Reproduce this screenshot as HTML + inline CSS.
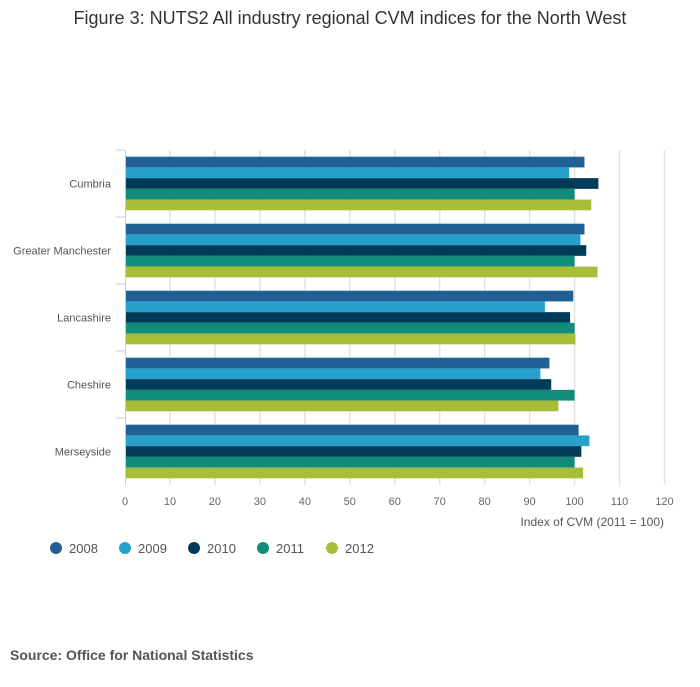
<!DOCTYPE html>
<html><head><meta charset="utf-8"><style>
body{margin:0;background:#fff;font-family:"Liberation Sans",sans-serif;}
</style></head><body>
<svg id="c" width="700" height="682" xmlns="http://www.w3.org/2000/svg">
<text x="350" y="24" text-anchor="middle" font-size="18" fill="#333">Figure 3: NUTS2 All industry regional CVM indices for the North West</text>
<g id="grid"></g><g id="bars"></g><g id="axes"></g><g id="legend"></g>
<text x="10" y="660" font-size="14" font-weight="bold" fill="#555">Source: Office for National Statistics</text>
</svg>
<script>
const categories=["Cumbria","Greater Manchester","Lancashire","Cheshire","Merseyside"];
const years=["2008","2009","2010","2011","2012"];
const colors=["#206095","#27a0cc","#003c57","#118c7b","#a8bd3a"];
const v2008=[102.2,102.2,99.7,94.4,100.9];
const v2009=[98.8,101.3,93.4,92.4,103.3];
const v2010=[105.3,102.6,99.0,94.8,101.5];
const v2011=[100,100,100,100,100];
const v2012=[103.7,105.1,100.2,96.4,101.9];
const ticks=[0,10,20,30,40,50,60,70,80,90,100,110,120];
const series=[v2008,v2009,v2010,v2011,v2012];
const NS="http://www.w3.org/2000/svg";
const x0=125,x1=664.5,yTop=150,yBot=485;
const X=v=>x0+(v/120)*(x1-x0);
const band=(yBot-yTop)/categories.length,pad=6.7,bh=(band-2*pad)/5;
function mk(t,a,p){const e=document.createElementNS(NS,t);for(const k in a)e.setAttribute(k,a[k]);document.getElementById(p).appendChild(e);return e;}
ticks.forEach(t=>{
 if(t>0){const g=mk("line",{x1:X(t),x2:X(t),y1:yTop,y2:yBot,stroke:"#e2e2e2","stroke-width":1.5},"grid");
 
 }
 const l=mk("text",{x:X(t),y:505,"text-anchor":"middle","font-size":11,fill:"#666"},"axes");l.textContent=t;
 
 
});
categories.forEach((c,i)=>{
 const y=yTop+i*band;
 series.forEach((s,j)=>{
  const r=mk("rect",{x:X(0),y:y+pad+j*bh,width:X(s[i])-X(0),height:bh,fill:colors[j]},"bars");
  
  
 });
 const t=mk("text",{x:111,y:y+band/2+4,"text-anchor":"end","font-size":11,fill:"#555"},"axes");t.textContent=c;
 
 
 const tk=mk("line",{x1:116,x2:125,y1:y,y2:y,stroke:"#ccc"},"axes");
 
 
});
const ax=mk("line",{x1:125.5,x2:125.5,y1:yTop,y2:yBot,stroke:"#ccc"},"axes");


const tt=mk("text",{x:664,y:526,"text-anchor":"end","font-size":12,fill:"#555"},"axes");tt.textContent="Index of CVM (2011 = 100)";


years.forEach((yr,j)=>{
 const lx=56+j*69;
 const c=mk("circle",{cx:lx,cy:548,r:6,fill:colors[j]},"legend");
 
 
 const t=mk("text",{x:lx+13,y:553,"font-size":13,fill:"#555"},"legend");t.textContent=yr;
 
 
});
</script>
</body></html>
